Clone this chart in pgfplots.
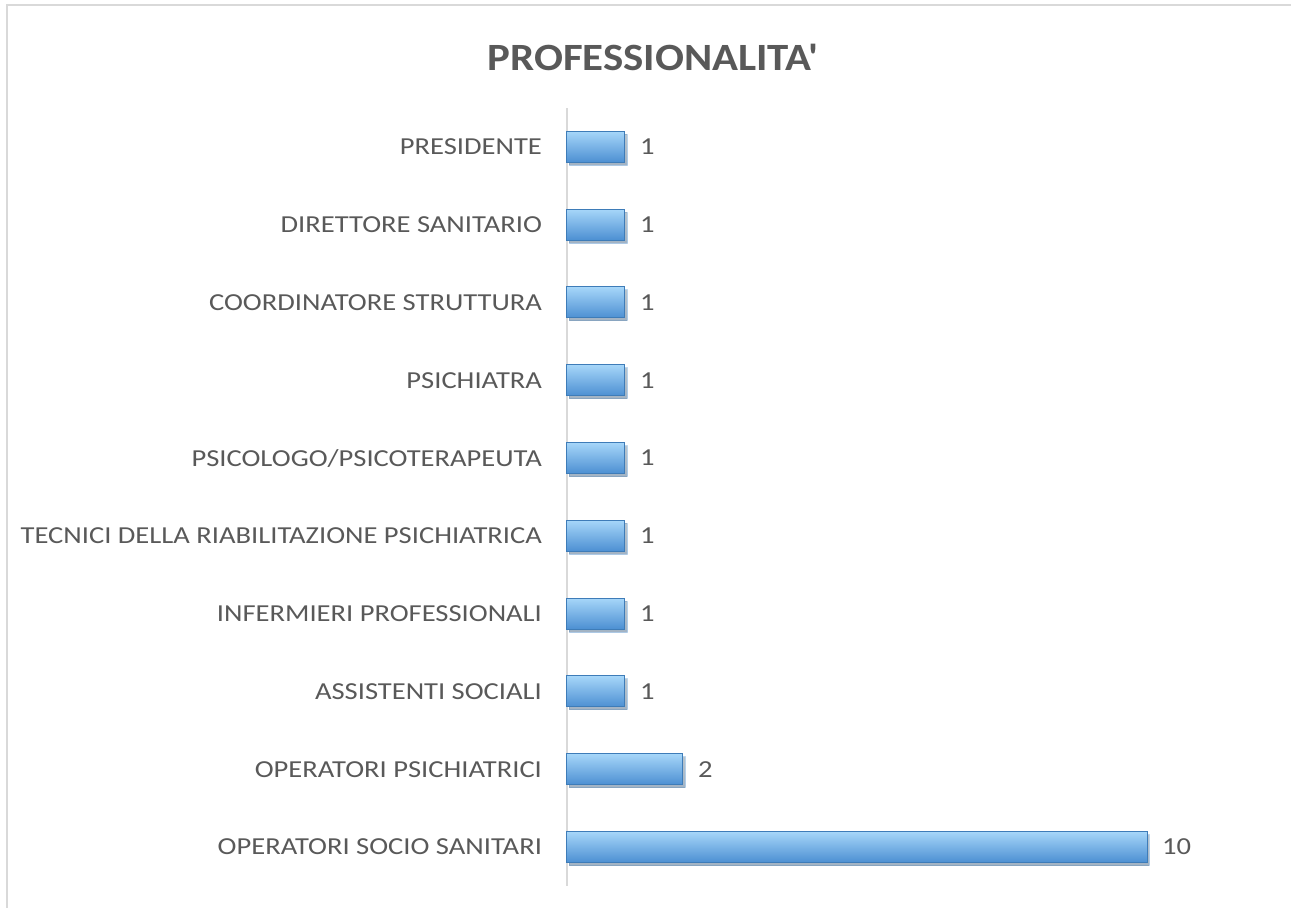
\documentclass[border=0pt]{standalone}
\usepackage{fontspec}
\setmainfont{Carlito}
\newfontfamily\lab[FakeStretch=1.17]{Carlito}
\newfontfamily\ttl[FakeStretch=1.11]{Carlito}
\usepackage{pgfplots}
\pgfplotsset{compat=1.18}
\usetikzlibrary{shadows}
\definecolor{txt}{HTML}{595959}
\definecolor{frame}{HTML}{D9D9D9}
\definecolor{barTop}{HTML}{A6D6F9}
\definecolor{barMid}{HTML}{62A7E8}
\definecolor{barBot}{HTML}{4C8FD2}
\definecolor{barEdge}{HTML}{3E7CB8}
\pgfplotsset{bevelbar/.style={draw=barEdge, line width=0.5pt,
    top color=barTop, middle color=barMid, bottom color=barBot,
    drop shadow={shadow xshift=1.2pt, shadow yshift=-1.5pt, opacity=0.25, fill=black},
    bar shift=0pt, forget plot}}
\begin{document}
\begin{tikzpicture}
% page = 1291x908 px at 0.5pt per px
\path[use as bounding box] (0,0) rectangle (645.5pt,454pt);
\draw[frame, line width=1pt] (3.25pt,0) -- (3.25pt,451.25pt) -- (645.5pt,451.25pt);
\node[txt, font=\ttl\fontsize{19.3}{22}\selectfont\bfseries] at (326.5pt,425.5pt) {PROFESSIONALITA\char39};
\begin{axis}[
    at={(283.5pt,11pt)}, anchor=south west,
    scale only axis,
    width=348pt, height=389pt,
    xbar,
    bar width=15.5pt,
    xmin=0, xmax=12,
    ymin=-0.5, ymax=9.5,
    ytick={0,...,9},
    yticklabels={OPERATORI SOCIO SANITARI, OPERATORI PSICHIATRICI, ASSISTENTI SOCIALI,
        INFERMIERI PROFESSIONALI, TECNICI DELLA RIABILITAZIONE PSICHIATRICA,
        PSICOLOGO/PSICOTERAPEUTA, PSICHIATRA, COORDINATORE STRUTTURA,
        DIRETTORE SANITARIO, PRESIDENTE},
    yticklabel style={font=\lab\fontsize{12.2}{14}\selectfont, text=txt, xshift=-9pt},
    major tick length=0pt,
    hide x axis,
    axis y line*=left,
    y axis line style={frame, line width=1.2pt, -},
    /pgf/number format/assume math mode=true,
    nodes near coords,
    nodes near coords style={font=\lab\fontsize{12.2}{14}\selectfont, text=txt, xshift=4pt},
    clip=false,
]
\addplot[bevelbar] coordinates {(10,0)};
\addplot[bevelbar] coordinates {(2,1)};
\addplot[bevelbar] coordinates {(1,2)};
\addplot[bevelbar] coordinates {(1,3)};
\addplot[bevelbar] coordinates {(1,4)};
\addplot[bevelbar] coordinates {(1,5)};
\addplot[bevelbar] coordinates {(1,6)};
\addplot[bevelbar] coordinates {(1,7)};
\addplot[bevelbar] coordinates {(1,8)};
\addplot[bevelbar] coordinates {(1,9)};
\end{axis}
\end{tikzpicture}
\end{document}
